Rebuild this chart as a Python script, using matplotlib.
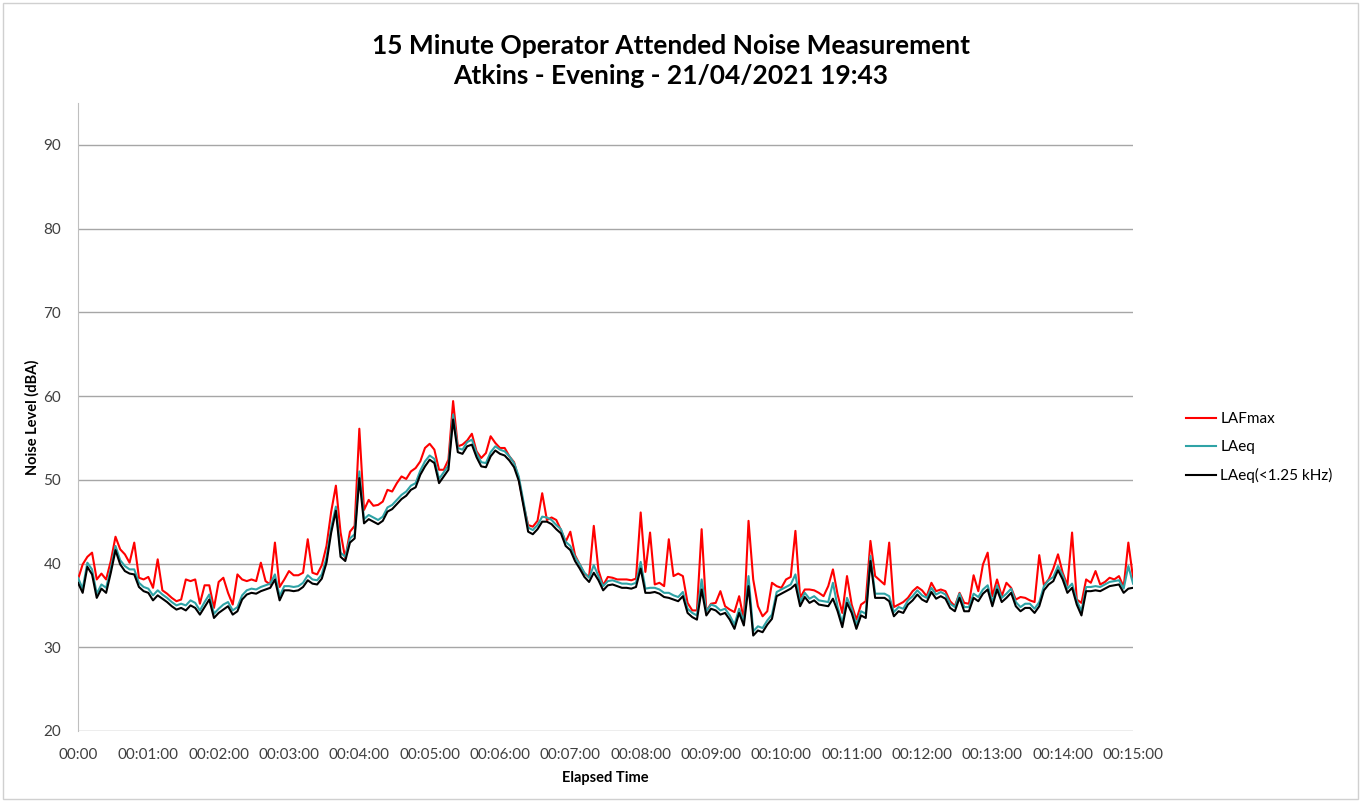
import numpy as np
import matplotlib
matplotlib.use("Agg")
import matplotlib.pyplot as plt
from matplotlib.patches import Rectangle

plt.rcParams['font.family'] = ['Lato', 'DejaVu Sans']

# samples every 4 s, one line = one minute (15 values), last line holds 00:15:00
seconds = np.arange(0, 901, 4)

lafmax = [
    38.1, 39.9, 40.8, 41.3, 38.1, 38.8, 38.1, 40.3, 43.2, 41.7, 41.1, 40.1, 42.5, 38.3, 38.1,
    38.4, 37.1, 40.5, 36.8, 36.4, 35.9, 35.5, 35.7, 38.1, 37.9, 38.1, 35.2, 37.4, 37.4, 34.7,
    37.8, 38.3, 36.5, 35.1, 38.7, 38.1, 37.9, 38.1, 37.9, 40.1, 37.9, 37.5, 42.5, 37.2, 38.1,
    39.1, 38.6, 38.6, 38.9, 42.9, 38.9, 38.7, 39.8, 42.1, 46.2, 49.3, 43.7, 40.6, 43.8, 44.5,
    56.1, 46.4, 47.6, 46.9, 47.0, 47.4, 48.8, 48.6, 49.6, 50.4, 50.1, 51.0, 51.4, 52.2, 53.8,
    54.3, 53.6, 51.2, 51.2, 52.4, 59.4, 54.0, 54.2, 54.7, 55.5, 53.4, 52.6, 53.2, 55.2, 54.4,
    53.8, 53.8, 52.8, 52.1, 50.1, 47.1, 44.6, 44.4, 45.1, 48.4, 45.2, 45.5, 45.2, 44.0, 42.6,
    43.8, 41.0, 39.9, 38.8, 38.4, 44.5, 39.2, 37.4, 38.4, 38.3, 38.1, 38.1, 38.1, 38.0, 38.2,
    46.1, 39.0, 43.7, 37.5, 37.7, 37.3, 42.9, 38.5, 38.8, 38.5, 35.3, 34.4, 34.4, 44.1, 34.3,
    35.2, 35.3, 36.7, 34.9, 34.5, 34.2, 36.1, 33.3, 45.1, 38.1, 34.9, 33.7, 34.3, 37.7, 37.3,
    37.1, 38.1, 38.4, 43.9, 35.9, 36.9, 36.9, 36.8, 36.5, 36.1, 37.3, 39.3, 36.3, 34.1, 38.5,
    35.1, 33.3, 35.1, 35.5, 42.7, 38.5, 38.0, 37.5, 42.5, 34.8, 35.1, 35.4, 35.9, 36.7, 37.2,
    36.8, 36.1, 37.7, 36.7, 36.9, 36.7, 35.5, 34.9, 36.5, 35.3, 35.2, 38.6, 36.7, 39.9, 41.3,
    36.1, 38.1, 36.1, 37.7, 37.1, 35.7, 36.0, 35.9, 35.6, 35.4, 41.0, 37.4, 38.1, 39.4, 41.1,
    38.9, 37.4, 43.7, 35.7, 35.3, 38.1, 37.7, 39.1, 37.5, 37.8, 38.3, 38.1, 38.5, 37.2, 42.5,
    38.3,
]

laeq = [
    38.3, 37.0, 40.1, 39.3, 36.4, 37.5, 37.1, 39.4, 42.1, 40.4, 39.7, 39.3, 39.3, 37.7, 37.2,
    37.0, 36.2, 36.8, 36.3, 35.9, 35.4, 35.0, 35.2, 35.0, 35.6, 35.3, 34.4, 35.4, 36.3, 34.0,
    34.6, 35.1, 35.4, 34.4, 34.8, 36.2, 36.8, 37.0, 36.9, 37.2, 37.4, 37.6, 38.7, 36.1, 37.3,
    37.3, 37.2, 37.3, 37.7, 38.6, 38.1, 38.0, 38.7, 40.7, 44.3, 46.8, 41.3, 40.8, 43.0, 43.5,
    51.0, 45.3, 45.8, 45.5, 45.2, 45.6, 46.7, 47.0, 47.6, 48.2, 48.6, 49.3, 49.6, 51.1, 52.2,
    52.9, 52.5, 50.1, 50.9, 51.7, 57.8, 53.8, 53.6, 54.5, 54.8, 53.2, 52.1, 52.0, 53.3, 54.0,
    53.6, 53.4, 52.8, 52.0, 50.4, 47.4, 44.3, 44.0, 44.6, 45.6, 45.5, 45.2, 44.6, 44.1, 42.6,
    42.1, 40.8, 39.9, 38.9, 38.3, 39.8, 38.5, 37.3, 37.9, 38.0, 37.8, 37.6, 37.6, 37.5, 37.7,
    40.2, 37.0, 37.1, 37.1, 36.9, 36.5, 36.5, 36.2, 36.0, 36.6, 34.6, 34.1, 33.8, 38.1, 34.3,
    35.1, 34.9, 34.4, 34.6, 33.8, 32.7, 34.6, 33.1, 38.5, 31.9, 32.5, 32.3, 33.2, 33.9, 36.6,
    36.9, 37.2, 37.5, 38.7, 35.4, 36.5, 35.8, 36.1, 35.6, 35.5, 35.4, 37.7, 34.8, 32.9, 35.9,
    34.6, 32.7, 34.3, 34.0, 40.9, 36.4, 36.4, 36.4, 36.1, 34.2, 34.8, 34.6, 35.6, 36.1, 36.8,
    36.2, 35.9, 37.1, 36.3, 36.6, 36.3, 35.2, 34.8, 36.4, 34.8, 34.8, 36.4, 36.0, 36.9, 37.4,
    35.4, 37.4, 35.9, 36.4, 37.0, 35.4, 34.8, 35.2, 35.2, 34.6, 35.4, 37.3, 38.0, 38.4, 39.7,
    38.6, 37.0, 37.6, 35.6, 34.3, 37.2, 37.2, 37.3, 37.2, 37.5, 37.8, 37.9, 38.0, 37.0, 39.7,
    37.6,
]

laeq_low = [
    37.7, 36.5, 39.6, 38.7, 35.9, 37.0, 36.5, 38.9, 41.6, 39.9, 39.1, 38.8, 38.7, 37.2, 36.7,
    36.5, 35.6, 36.2, 35.8, 35.4, 34.9, 34.5, 34.7, 34.4, 35.0, 34.7, 33.9, 34.8, 35.7, 33.5,
    34.1, 34.5, 34.9, 33.9, 34.3, 35.7, 36.3, 36.5, 36.4, 36.7, 36.9, 37.1, 38.1, 35.6, 36.8,
    36.8, 36.7, 36.8, 37.2, 38.0, 37.6, 37.5, 38.2, 40.1, 43.7, 46.3, 40.8, 40.3, 42.5, 43.0,
    50.2, 44.8, 45.3, 45.0, 44.7, 45.1, 46.2, 46.5, 47.1, 47.7, 48.1, 48.8, 49.1, 50.6, 51.6,
    52.4, 52.0, 49.6, 50.4, 51.2, 57.2, 53.3, 53.1, 54.0, 54.2, 52.7, 51.6, 51.5, 52.8, 53.5,
    53.1, 52.9, 52.3, 51.5, 49.9, 46.9, 43.8, 43.5, 44.1, 45.0, 45.0, 44.7, 44.1, 43.6, 42.1,
    41.6, 40.3, 39.4, 38.4, 37.8, 38.9, 38.0, 36.8, 37.4, 37.5, 37.3, 37.1, 37.1, 37.0, 37.2,
    39.4, 36.5, 36.5, 36.6, 36.4, 36.0, 35.9, 35.7, 35.5, 36.1, 34.1, 33.6, 33.3, 36.9, 33.8,
    34.6, 34.4, 33.9, 34.1, 33.3, 32.2, 34.1, 32.6, 37.3, 31.4, 32.0, 31.8, 32.7, 33.4, 36.1,
    36.4, 36.7, 37.0, 37.5, 34.9, 36.0, 35.3, 35.6, 35.1, 35.0, 34.9, 35.8, 34.3, 32.4, 35.3,
    34.1, 32.2, 33.8, 33.5, 40.3, 35.9, 35.9, 35.9, 35.5, 33.7, 34.3, 34.1, 35.1, 35.6, 36.3,
    35.7, 35.4, 36.6, 35.8, 36.1, 35.8, 34.7, 34.3, 35.9, 34.3, 34.3, 35.9, 35.5, 36.4, 36.9,
    34.9, 36.9, 35.4, 35.9, 36.5, 34.9, 34.3, 34.7, 34.7, 34.1, 34.9, 36.8, 37.5, 37.9, 39.2,
    38.1, 36.5, 37.1, 35.1, 33.8, 36.7, 36.7, 36.8, 36.7, 37.0, 37.3, 37.4, 37.5, 36.5, 37.0,
    37.1,
]

tick_secs = list(range(0, 901, 60))
tick_labels = ["00:00"] + ["00:%02d:00" % m for m in range(1, 16)]
series_names = ["LAFmax", "LAeq", "LAeq(<1.25 kHz)"]

fig = plt.figure(figsize=(13.61, 8.01), dpi=100, facecolor='white')
ax = fig.add_axes([0.0573, 0.0874, 0.7752, 0.784])

ax.plot(seconds, lafmax, color='#ff0000', lw=1.5, label=series_names[0], zorder=3)
ax.plot(seconds, laeq, color='#2fa3a6', lw=1.5, label=series_names[1], zorder=4)
ax.plot(seconds, laeq_low, color='#000000', lw=1.5, label=series_names[2], zorder=5)

ax.set_xlim(0, 900)
ax.set_ylim(20, 95)
ax.set_yticks(range(20, 91, 10))
ax.set_xticks(tick_secs)
ax.set_xticklabels(tick_labels)
ax.grid(axis='y', color='#a6a6a6', lw=1)
ax.set_axisbelow(True)
for side in ['top', 'right', 'bottom']:
    ax.spines[side].set_visible(False)
ax.spines['left'].set_color('#bfbfbf')
ax.tick_params(length=0, labelsize=11, labelcolor='#404040')
ax.tick_params(axis='y', pad=12)
ax.tick_params(axis='x', pad=12)

ax.set_ylabel("Noise Level (dBA)", fontsize=10.5, fontweight='bold', labelpad=3)
ax.set_xlabel("Elapsed Time", fontsize=10.5, fontweight='bold', labelpad=7)

fig.text(0.493, 0.958, "15 Minute Operator Attended Noise Measurement\nAtkins - Evening - 21/04/2021 19:43",
         ha='center', va='top', fontsize=19, fontweight='bold', linespacing=1.3)

ax.legend(loc='center left', bbox_to_anchor=(1.037, 0.451), frameon=False,
          fontsize=11, handlelength=2.0, labelspacing=0.9, handletextpad=0.25)

fig.patches.append(Rectangle((0.002, 0.002), 0.996, 0.994, transform=fig.transFigure,
                             fill=False, edgecolor='#d0d0d0', lw=1))

fig.savefig("out.png", dpi=100)
